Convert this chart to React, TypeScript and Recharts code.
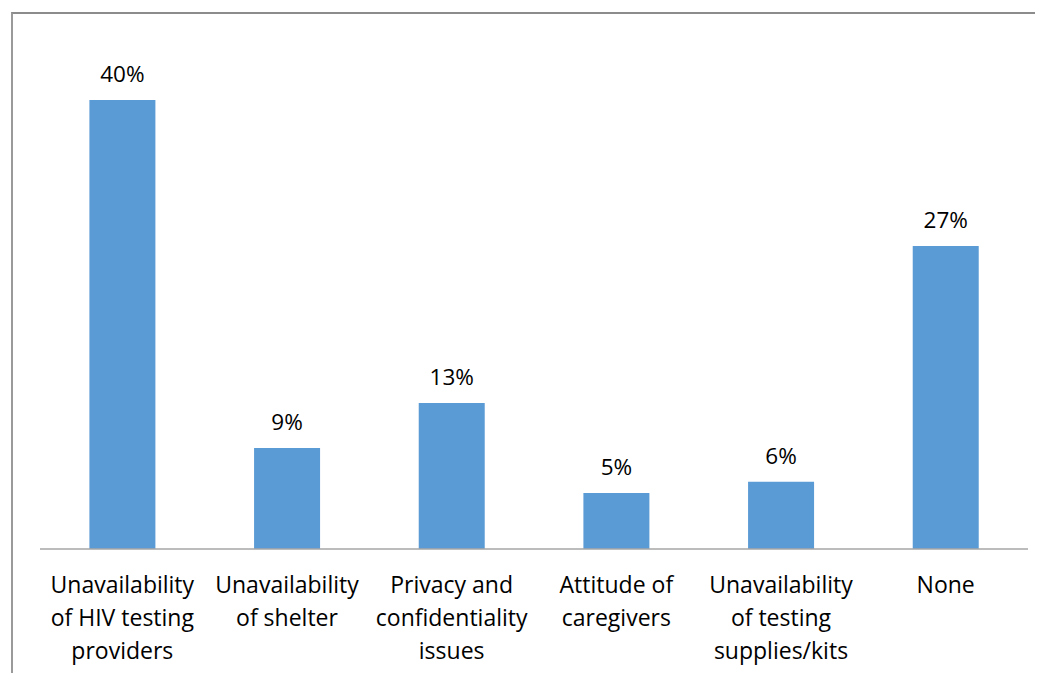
import React, { useEffect } from 'react';
import { BarChart, Bar, XAxis, YAxis, LabelList } from 'recharts';

const categories = [
  'Unavailability\nof HIV testing\nproviders',
  'Unavailability\nof shelter',
  'Privacy and\nconfidentiality\nissues',
  'Attitude of\ncaregivers',
  'Unavailability\nof testing\nsupplies/kits',
  'None'
];
const percents = [40, 9, 13, 5, 6, 27];

const data = categories.map((name, i) => ({ name, value: percents[i] }));

const FONT = '"Open Sans", sans-serif';

function WrappedTick(props: any) {
  const { x, y, payload } = props;
  const lines = String(payload.value).split('\n');
  return (
    <text x={x} y={y} textAnchor="middle" fontFamily={FONT} fontSize={23} fill="#000">
      {lines.map((l, i) => (
        <tspan key={i} x={x} dy={i === 0 ? 36 : 33}>{l}</tspan>
      ))}
    </text>
  );
}

export default function App() {
  // keep the page from growing a scrollbar
  useEffect(() => {
    document.body.style.overflow = 'hidden';
  }, []);

  return (
    <div style={{ position: 'relative', width: 1035, height: 665, overflow: 'hidden' }}>
      <div
        style={{
          position: 'absolute',
          left: 3,
          top: 4,
          width: 1040,
          height: 700,
          borderTop: '2px solid #8c8c8c',
          borderLeft: '2px solid #9a9a9a'
        }}
      />
      <BarChart
        width={1035}
        height={665}
        data={data}
        margin={{ top: 36, right: 15, left: 32, bottom: 0 }}
        barCategoryGap="30%"
      >
        <XAxis
          dataKey="name"
          interval={0}
          tickLine={false}
          axisLine={{ stroke: '#a6a6a6', strokeWidth: 1.5 }}
          height={124}
          tick={<WrappedTick />}
        />
        <YAxis hide domain={[0, 45]} />
        <Bar dataKey="value" fill="#5b9bd5" isAnimationActive={false}>
          <LabelList
            dataKey="value"
            position="top"
            offset={18}
            formatter={(v: any) => `${v}%`}
            style={{ fontFamily: FONT, fontSize: 22.5, fill: '#000' }}
          />
        </Bar>
      </BarChart>
    </div>
  );
}
